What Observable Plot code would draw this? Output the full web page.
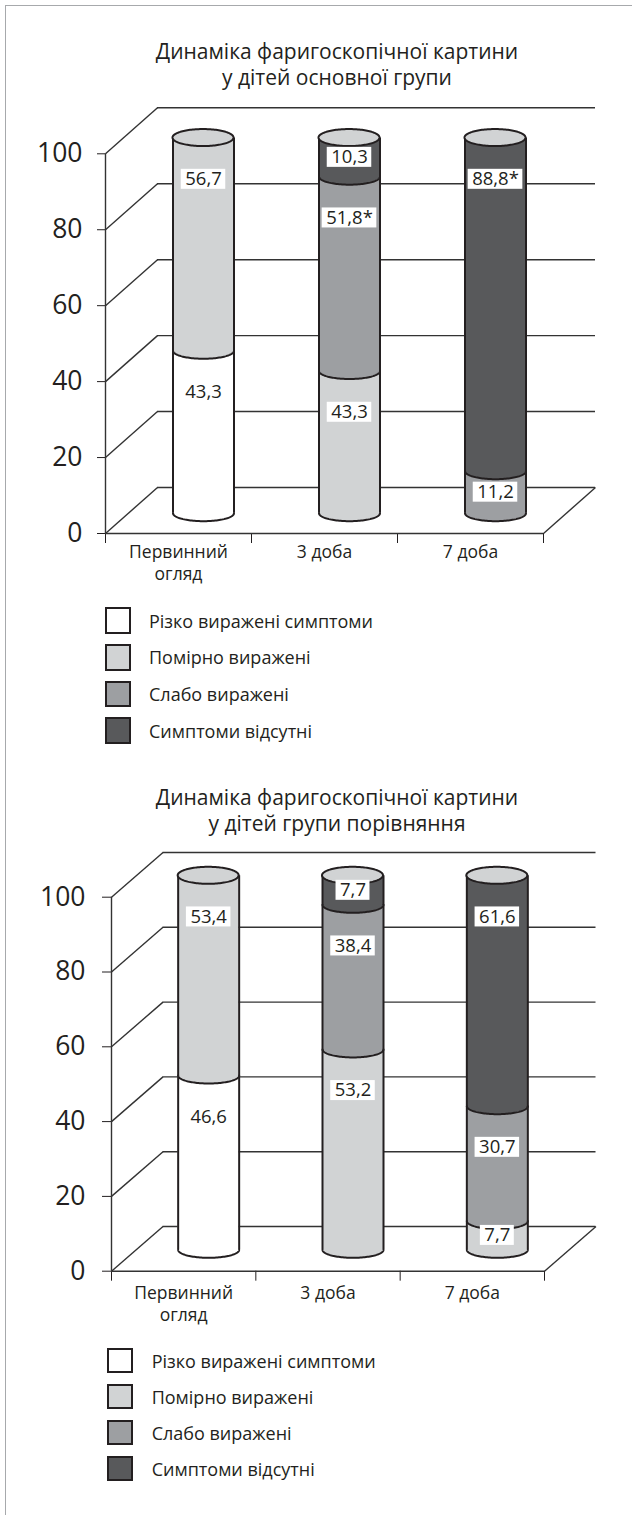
<!DOCTYPE html>
<html><head><meta charset="utf-8">
<script src="https://cdn.jsdelivr.net/npm/d3@7"></script>
<script src="https://cdn.jsdelivr.net/npm/@observablehq/plot@0.6"></script>
<style>
html,body{margin:0;padding:0;background:#fff;}
body{font-family:"Open Sans",sans-serif;color:#231f20;}
#page{position:relative;width:632px;height:1515px;overflow:hidden;background:#fff;}
.frame-top{position:absolute;left:5px;top:5px;right:0;height:0;border-top:1.5px solid #a7a9ac;}
.frame-left{position:absolute;left:5px;top:5px;bottom:0;width:0;border-left:1.5px solid #a7a9ac;}
.title{position:absolute;left:37px;width:600px;text-align:center;font-size:21px;line-height:26px;white-space:nowrap;}
.chart{position:absolute;left:0;}
.chart svg text{font-family:"Open Sans",sans-serif;}
.chart g[aria-label="y-axis tick label"] text,.chart g[aria-label="y-axis"] text{font-size:26.5px;}
.legend-item{position:absolute;height:0;}
.legend-box{position:absolute;box-sizing:border-box;border:2.5px solid #231f20;}
.legend-text{position:absolute;font-size:18px;line-height:22px;white-space:nowrap;transform:translateY(-50%);}
</style>
</head><body>
<div id="page">
  <div class="frame-top"></div><div class="frame-left"></div>
</div>
<script>
// ---------- data ----------
const categories = ["Первинний\nогляд", "3 доба", "7 доба"];
const seriesNames = ["Різко виражені симптоми", "Помірно виражені", "Слабо виражені", "Симптоми відсутні"];
const seriesColors = ["#ffffff", "#d1d3d4", "#9d9fa2", "#58595b"];
const yTicks = [0, 20, 40, 60, 80, 100];

// panel 1: main group
const mainTitle = ["Динаміка фаригоскопічної картини", "у дітей основної групи"];
const mainSevere   = [43.3, 0, 0];
const mainModerate = [56.7, 37.9, 0];
const mainMild     = [0, 51.8, 11.2];
const mainAbsent   = [0, 10.3, 88.8];
const mainSevereLabels   = ["43,3", "", ""];
const mainModerateLabels = ["56,7", "43,3", ""];
const mainMildLabels     = ["", "51,8*", "11,2"];
const mainAbsentLabels   = ["", "10,3", "88,8*"];

// panel 2: comparison group
const compTitle = ["Динаміка фаригоскопічної картини", "у дітей групи порівняння"];
const compSevere   = [46.6, 0, 0];
const compModerate = [53.4, 53.2, 7.7];
const compMild     = [0, 38.4, 30.7];
const compAbsent   = [0, 7.7, 61.6];
const compSevereLabels   = ["46,6", "", ""];
const compModerateLabels = ["53,4", "53,2", "7,7"];
const compMildLabels     = ["", "38,4", "30,7"];
const compAbsentLabels   = ["", "7,7", "61,6"];

// ---------- layout ----------
const INK = "#231f20";
const W = 632;
const layouts = [
  {top: 0, height: 600, ml: 105, mr: 89, mt: 153.3, mb: 67, depthX: 52, depthY: 46,
   cyl0: 5.35, cyl1: 0.988, tickSize: 8, tickPadding: 15, catDy: 9,
   titleTop: 38, legendTop: 607.3, legendLeft: 105, legendStep: 36.7, boxW: 25.7, boxH: 26.7, legendTextX: 149},
  {top: 740, height: 600, ml: 111, mr: 88, mt: 156.7, mb: 69.3, depthX: 51.5, depthY: 44.7,
   cyl0: 5.72, cyl1: 1.0, tickSize: 9, tickPadding: 17, catDy: 12,
   titleTop: 784, legendTop: 1347.7, legendLeft: 106.7, legendStep: 36, boxW: 26.6, boxH: 25.6, legendTextX: 151.7}
];

const canvas = document.createElement("canvas");
const ctx = canvas.getContext("2d");
function measure(t, size) { ctx.font = size + "px 'Open Sans'"; return ctx.measureText(t).width; }

function panel(cfg, title, series, labels) {
  const page = document.getElementById("page");
  const kx = (W - cfg.ml - cfg.mr) / 3;
  const ky = (cfg.height - cfg.mt - cfg.mb) / 100;
  const ox = cfg.depthX / kx, oy = cfg.depthY / ky;
  const r = 30.5 / kx, ry = 8 / ky, capRy = 8.5 / ky;
  const cxOff = 25 / kx;
  const cy = v => cfg.cyl0 + cfg.cyl1 * v;
  const N = 64;
  const segPts = [], capPts = [], sides = [], boxes = [], texts = [];

  categories.forEach((cat, i) => {
    const cx = i + 0.5 + cxOff;
    const total = d3.sum(series, s => s[i]);
    let acc = 0;
    series.forEach((s, k) => {
      const v = s[i];
      if (!v) return;
      const b = acc / total * 100, t = (acc + v) / total * 100;
      acc += v;
      const id = i + "-" + k;
      for (let j = 0; j <= N; j++) {
        const a = Math.PI * j / N;
        segPts.push({id, series: seriesNames[k], x: cx - r * Math.cos(a), lo: cy(b) - ry * Math.sin(a), hi: cy(t)});
      }
      const lab = labels[k][i];
      if (lab) {
        const ly = cy(Math.max(t - 11, (b + t) / 2));
        const w = measure(lab, 18.5) + 8;
        boxes.push({x1: cx - w / 2 / kx, x2: cx + w / 2 / kx, y1: ly - 10 / ky, y2: ly + 10 / ky});
        texts.push({x: cx, y: ly, text: lab});
      }
    });
    for (let j = 0; j <= N; j++) {
      const a = Math.PI * j / N;
      capPts.push({col: i, x: cx - r * Math.cos(a), lo: cy(100) - capRy * Math.sin(a), hi: cy(100) + capRy * Math.sin(a)});
    }
    sides.push({x: cx - r, y1: cy(0), y2: cy(100)}, {x: cx + r, y1: cy(0), y2: cy(100)});
  });

  const grid = "#333333";
  const chart = Plot.plot({
    width: W, height: cfg.height,
    marginLeft: cfg.ml, marginRight: cfg.mr, marginTop: cfg.mt, marginBottom: cfg.mb,
    style: {background: "transparent", color: INK, overflow: "visible"},
    x: {domain: [0, 3], ticks: 3, tickSize: 10, tickFormat: () => "", label: null},
    y: {domain: [0, 100], ticks: yTicks, tickSize: cfg.tickSize, tickPadding: cfg.tickPadding, tickFormat: d => String(d), label: null},
    color: {domain: seriesNames, range: seriesColors},
    marks: [
      // back wall gridlines
      Plot.ruleY(yTicks, {y: d => d + oy, x1: ox, x2: 3 + ox, stroke: grid, strokeWidth: 1.4}),
      // side diagonals
      Plot.link(yTicks, {x1: 0, y1: d => d, x2: ox, y2: d => d + oy, stroke: grid, strokeWidth: 1.4}),
      // floor right edge
      Plot.link([0], {x1: 3, y1: 0, x2: 3 + ox, y2: oy, stroke: grid, strokeWidth: 1.4}),
      // front axes
      Plot.ruleY([0], {x1: 0, x2: 3, stroke: grid, strokeWidth: 1.4}),
      Plot.ruleX([0], {y1: 0, y2: 100, stroke: grid, strokeWidth: 1.4}),
      // cylinders
      Plot.areaY(segPts, {x: "x", y1: "lo", y2: "hi", z: "id", fill: "series"}),
      Plot.line(segPts, {x: "x", y: "lo", z: "id", stroke: INK, strokeWidth: 2}),
      Plot.ruleX(sides, {x: "x", y1: "y1", y2: "y2", stroke: INK, strokeWidth: 2}),
      Plot.areaY(capPts, {x: "x", y1: "lo", y2: "hi", z: "col", fill: seriesColors[1], stroke: INK, strokeWidth: 2}),
      // value labels
      Plot.rect(boxes, {x1: "x1", x2: "x2", y1: "y1", y2: "y2", fill: "#ffffff"}),
      Plot.text(texts, {x: "x", y: "y", text: "text", fontSize: 18.5, fill: INK}),
      // category labels
      Plot.text(categories, {x: (d, i) => i + 0.5, y: () => 0, text: d => d, dy: cfg.catDy, lineAnchor: "top", lineHeight: 1.26, fontSize: 17.5, fill: INK})
    ]
  });
  const holder = document.createElement("div");
  holder.className = "chart";
  holder.style.top = cfg.top + "px";
  holder.appendChild(chart);
  page.appendChild(holder);

  const t = document.createElement("div");
  t.className = "title";
  t.style.top = cfg.titleTop + "px";
  t.innerHTML = title.join("<br>");
  page.appendChild(t);

  seriesNames.forEach((name, k) => {
    const item = document.createElement("div");
    item.className = "legend-item";
    const yc = cfg.legendTop + k * cfg.legendStep + cfg.boxH / 2;
    item.style.top = yc + "px";
    item.style.left = "0px";
    const box = document.createElement("div");
    box.className = "legend-box";
    box.style.left = cfg.legendLeft + "px";
    box.style.top = (-cfg.boxH / 2) + "px";
    box.style.width = cfg.boxW + "px";
    box.style.height = cfg.boxH + "px";
    box.style.background = seriesColors[k];
    const tx = document.createElement("div");
    tx.className = "legend-text";
    tx.style.left = cfg.legendTextX + "px";
    tx.textContent = name;
    item.appendChild(box); item.appendChild(tx);
    page.appendChild(item);
  });
}

panel(layouts[0], mainTitle, [mainSevere, mainModerate, mainMild, mainAbsent],
      [mainSevereLabels, mainModerateLabels, mainMildLabels, mainAbsentLabels]);
panel(layouts[1], compTitle, [compSevere, compModerate, compMild, compAbsent],
      [compSevereLabels, compModerateLabels, compMildLabels, compAbsentLabels]);
</script>
</body></html>
